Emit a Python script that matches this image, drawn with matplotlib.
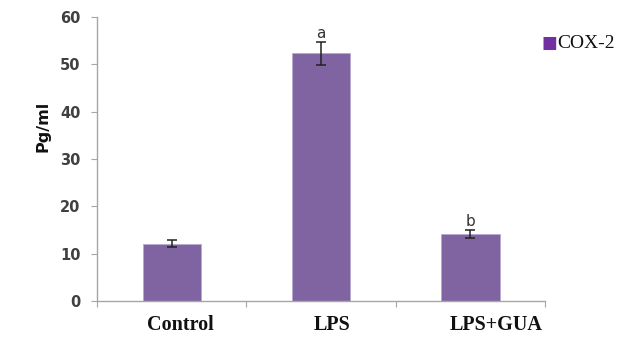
import matplotlib
matplotlib.use("Agg")
import matplotlib.pyplot as plt
import matplotlib.transforms as mtransforms
import numpy as np

# data
categories = ['Control', 'LPS', 'LPS+GUA']
values = [12.1, 52.3, 14.1]
errors = [0.8, 2.4, 0.8]
letters = ['', 'a', 'b']
series_name = 'COX-2'
yticks = [0, 10, 20, 30, 40, 50, 60]

bar_color = '#8064A2'
axis_color = '#A6A6A6'

fig = plt.figure(figsize=(6.18, 3.37), dpi=100)
ax = fig.add_axes([0.157, 0.107, 0.725, 0.843])

x = np.arange(len(categories))
ax.bar(x, values, width=0.39, color=bar_color, edgecolor='#B9A9D0', linewidth=0.6, zorder=2)
ax.errorbar(x, values, yerr=errors, fmt='none', ecolor='#222222', elinewidth=1.1,
            capsize=3.5, capthick=1.1, zorder=3)

for xi, v, e, t in zip(x, values, errors, letters):
    if t:
        ax.text(xi, v + e + 0.2, t, ha='center', va='bottom', fontsize=11,
                color='#333333', family='DejaVu Sans')

ax.set_xlim(-0.5, 2.5)
ax.set_ylim(0, 60)
ax.set_yticks(yticks)
ax.set_yticklabels([str(t) for t in yticks], fontsize=10.5, fontweight='bold', color='#404040')

# x ticks at category boundaries, labels centered
ax.set_xticks([-0.5, 0.5, 1.5, 2.5])
ax.set_xticklabels([])
ax.set_xticks(x, minor=True)
ax.set_xticklabels(categories, minor=True, fontsize=14.5, fontweight='bold',
                   family='Liberation Serif', color='#111111')
ax.tick_params(axis='x', which='minor', length=0, pad=10)
ax.tick_params(axis='x', which='major', length=4, color=axis_color, direction='out')
ax.tick_params(axis='y', length=4, color=axis_color, direction='out', pad=8)

# the original labels sit a little right of the bar centres
shifts = [9, 11, 26]
for lab, dx in zip(ax.get_xticklabels(minor=True), shifts):
    lab.set_transform(lab.get_transform() + mtransforms.ScaledTranslation(dx / 100, 0, fig.dpi_scale_trans))

for s in ['top', 'right']:
    ax.spines[s].set_visible(False)
for s in ['left', 'bottom']:
    ax.spines[s].set_color(axis_color)
    ax.spines[s].set_linewidth(1.0)

ax.set_ylabel('Pg/ml', fontsize=11.5, fontweight='bold', color='#111111')
ax.yaxis.set_label_coords(-0.103, 0.613)

# legend marker and text at top right
fig.text(0.877, 0.872, '\u25A0', fontsize=12, color='#7030A0', va='center', ha='left')
fig.text(0.901, 0.872, series_name, fontsize=14, family='Liberation Serif',
         color='#111111', va='center', ha='left')

fig.savefig('out.png', dpi=100)
